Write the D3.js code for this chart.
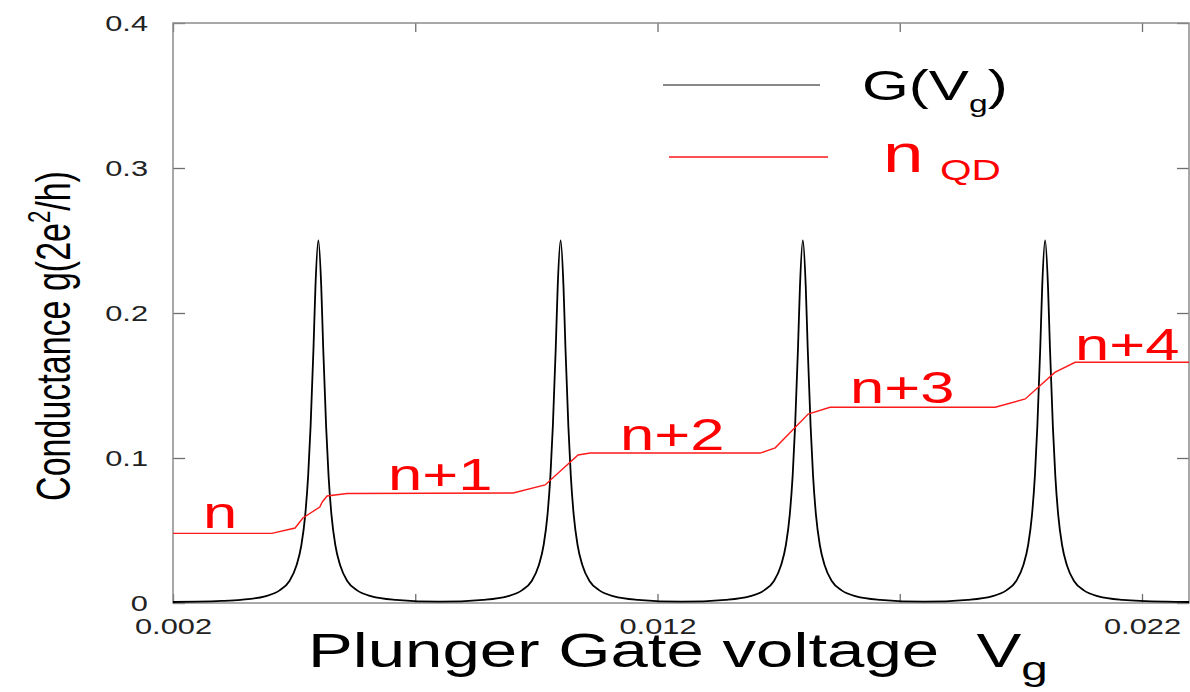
<!DOCTYPE html>
<html>
<head>
<meta charset="utf-8">
<script src="https://cdn.jsdelivr.net/npm/d3@7"></script>
<style>
  html, body { margin: 0; padding: 0; background: #fff; }
  svg { display: block; }
  text { font-family: "Liberation Sans", Arial, sans-serif; }
</style>
</head>
<body>
<div id="chart"></div>
<script>
// ---------------- DATA ----------------
// Conductance G(Vg): plunger gate voltage (V) and conductance (2e^2/h)
const gVoltage = [
  0.0020, 0.0025, 0.0030, 0.0034, 0.0039, 0.0042, 0.0044, 0.00455, 0.00465, 0.00473, 0.00479, 0.00484, 0.0049, 0.00494, 0.0050, 0.00506, 0.0051, 0.00516, 0.00521, 0.00527, 0.00535, 0.00545, 0.0056, 0.0058, 0.0061, 0.0066,
  0.0075,
  0.0084, 0.0089, 0.0092, 0.0094, 0.00955, 0.00965, 0.00973, 0.00979, 0.00984, 0.0099, 0.00994, 0.0100, 0.01006, 0.0101, 0.01016, 0.01021, 0.01027, 0.01035, 0.01045, 0.0106, 0.0108, 0.0111, 0.0116,
  0.0125,
  0.0134, 0.0139, 0.0142, 0.0144, 0.01455, 0.01465, 0.01473, 0.01479, 0.01484, 0.0149, 0.01494, 0.0150, 0.01506, 0.0151, 0.01516, 0.01521, 0.01527, 0.01535, 0.01545, 0.0156, 0.0158, 0.0161, 0.0166,
  0.0175,
  0.0184, 0.0189, 0.0192, 0.0194, 0.01955, 0.01965, 0.01973, 0.01979, 0.01984, 0.0199, 0.01994, 0.0200, 0.02006, 0.0201, 0.02016, 0.02021, 0.02027, 0.02035, 0.02045, 0.0206, 0.0208, 0.0211, 0.0216, 0.0225, 0.02297
];
const gValue = [
  0.0007, 0.0009, 0.0014, 0.0022, 0.0046, 0.0087, 0.015, 0.026, 0.040, 0.061, 0.088, 0.122, 0.176, 0.218, 0.250, 0.218, 0.176, 0.122, 0.088, 0.061, 0.040, 0.026, 0.015, 0.0087, 0.0046, 0.0022,
  0.0009,
  0.0022, 0.0046, 0.0087, 0.015, 0.026, 0.040, 0.061, 0.088, 0.122, 0.176, 0.218, 0.250, 0.218, 0.176, 0.122, 0.088, 0.061, 0.040, 0.026, 0.015, 0.0087, 0.0046, 0.0022,
  0.0009,
  0.0022, 0.0046, 0.0087, 0.015, 0.026, 0.040, 0.061, 0.088, 0.122, 0.176, 0.218, 0.250, 0.218, 0.176, 0.122, 0.088, 0.061, 0.040, 0.026, 0.015, 0.0087, 0.0046, 0.0022,
  0.0009,
  0.0022, 0.0046, 0.0087, 0.015, 0.026, 0.040, 0.061, 0.088, 0.122, 0.176, 0.218, 0.250, 0.218, 0.176, 0.122, 0.088, 0.061, 0.040, 0.026, 0.015, 0.0087, 0.0046, 0.0022, 0.0009, 0.0007
];

// Dot occupation n_QD (scaled onto the conductance axis)
const nVoltage = [0.0020, 0.00404, 0.00452, 0.00468, 0.00503, 0.00508, 0.00518, 0.00559, 0.00902, 0.00968, 0.01036, 0.01061, 0.01412, 0.01443, 0.01511, 0.01556, 0.01897, 0.01959, 0.01990, 0.02020, 0.02062, 0.02297];
const nValue   = [0.048,  0.048,   0.0517,  0.0586,  0.0662,  0.0697,  0.0738,  0.0755,  0.0759,  0.0814,  0.1021,  0.1034,  0.1034,  0.107,   0.1303,  0.135,   0.135,   0.1407,  0.150,   0.159,   0.166,   0.166];

// Step labels and their anchor points (data units)
const stepLabels  = ["n", "n+1", "n+2", "n+3", "n+4"];
const stepLabelV  = [0.00262, 0.006438, 0.011226, 0.015973, 0.020617];
const stepLabelG  = [0.0517, 0.0779, 0.1055, 0.1379, 0.1676];

// Axis ticks
const xTicks = [0.002, 0.007, 0.012, 0.017, 0.022];
const xTickLabels = ["0.002", "", "0.012", "", "0.022"];
const yTicks = [0, 0.1, 0.2, 0.3, 0.4];
const yTickLabels = ["0", "0.1", "0.2", "0.3", "0.4"];

// ---------------- LAYOUT ----------------
const W = 1190, H = 692;
const L = 173, R = 1189, T = 23, B = 603;
const SX = 1.4; // horizontal stretch of all lettering

const svg = d3.select("#chart").append("svg").attr("width", W).attr("height", H);

const x = d3.scaleLinear().domain([0.002, 0.02297]).range([L, R]);
const y = d3.scaleLinear().domain([0, 0.4]).range([B, T]);

const frameColor = "#8c8c8c";
const tickColor = "#6e6e6e";

const yFmt = d => yTickLabels[yTicks.indexOf(d)];
const xFmt = d => xTickLabels[xTicks.indexOf(d)];

const gl = svg.append("g").attr("transform", `translate(${L},0)`)
  .call(d3.axisLeft(y).tickValues(yTicks).tickSize(-12).tickFormat(yFmt));
const gr = svg.append("g").attr("transform", `translate(${R},0)`)
  .call(d3.axisRight(y).tickValues(yTicks).tickSize(-12).tickFormat(""));
const gb = svg.append("g").attr("transform", `translate(0,${B})`)
  .call(d3.axisBottom(x).tickValues(xTicks).tickSize(-9).tickFormat(xFmt));
const gt = svg.append("g").attr("transform", `translate(0,${T})`)
  .call(d3.axisTop(x).tickValues(xTicks).tickSize(-9).tickFormat(""));

[gl, gr, gb, gt].forEach(g => {
  g.select(".domain").remove();
  g.selectAll(".tick line").attr("stroke", tickColor).attr("stroke-width", 1.3);
});

gl.selectAll(".tick text")
  .attr("x", 0).attr("dy", "0.34em")
  .attr("text-anchor", "end")
  .attr("transform", `translate(-25,0) scale(${SX},1)`)
  .attr("font-size", 22).attr("fill", "#222")
  .style("font-family", '"Liberation Sans", Arial, sans-serif');

gb.selectAll(".tick text")
  .attr("y", 0).attr("dy", null)
  .attr("text-anchor", "middle")
  .attr("transform", `translate(0,31) scale(${SX},1)`)
  .attr("font-size", 22).attr("fill", "#222")
  .style("font-family", '"Liberation Sans", Arial, sans-serif');

// Frame
svg.append("rect")
  .attr("x", L).attr("y", T).attr("width", R - L).attr("height", B - T)
  .attr("fill", "none").attr("stroke", frameColor).attr("stroke-width", 1.5);

// Conductance curve
const gPts = gVoltage.map((v, i) => [v, gValue[i]]);
svg.append("path")
  .datum(gPts)
  .attr("fill", "none")
  .attr("stroke", "#000")
  .attr("stroke-width", 1.8)
  .attr("stroke-linejoin", "round")
  .attr("d", d3.line().x(d => x(d[0])).y(d => y(d[1])).curve(d3.curveMonotoneX));

// n_QD curve
const nPts = nVoltage.map((v, i) => [v, nValue[i]]);
svg.append("path")
  .datum(nPts)
  .attr("fill", "none")
  .attr("stroke", "#ff1a1a")
  .attr("stroke-width", 1.4)
  .attr("d", d3.line().x(d => x(d[0])).y(d => y(d[1])));

// Step labels
svg.append("g").selectAll("text")
  .data(stepLabels)
  .join("text")
  .attr("transform", (d, i) => `translate(${x(stepLabelV[i])},${y(stepLabelG[i])}) scale(${SX},1)`)
  .attr("font-size", 44)
  .attr("fill", "#ff0000")
  .text(d => d);

// Legend
svg.append("line").attr("x1", 663).attr("x2", 820).attr("y1", 85).attr("y2", 85)
  .attr("stroke", "#888").attr("stroke-width", 2.2);
const lg = svg.append("text")
  .attr("transform", `translate(862,100) scale(${SX},1)`)
  .attr("font-size", 43).attr("fill", "#000");
lg.append("tspan").text("G(V");
lg.append("tspan").attr("font-size", 24).attr("dy", 12).text("g");
lg.append("tspan").attr("dy", -12).text(")");

svg.append("line").attr("x1", 669).attr("x2", 828).attr("y1", 157).attr("y2", 157)
  .attr("stroke", "#ff1a1a").attr("stroke-width", 1.6);
svg.append("text")
  .attr("transform", `translate(883,172) scale(${SX},1)`)
  .attr("font-size", 52).attr("fill", "#ff0000").text("n");
svg.append("text")
  .attr("transform", `translate(940,180) scale(${SX},1)`)
  .attr("font-size", 29).attr("fill", "#ff0000").text("QD");

// Axis titles
const xt = svg.append("text")
  .attr("transform", `translate(308,667) scale(${SX},1)`)
  .attr("font-size", 48).attr("fill", "#000");
xt.append("tspan").text("Plunger Gate voltage\u00A0\u00A0V");
xt.append("tspan").attr("font-size", 34).attr("dy", 13).text("g");

const yt = svg.append("text")
  .attr("transform", `translate(70,336) scale(${SX},1) rotate(-90)`)
  .attr("text-anchor", "middle")
  .attr("font-size", 34).attr("fill", "#000");
yt.append("tspan").text("Conductance g(2e");
yt.append("tspan").attr("font-size", 22).attr("dy", -14).text("2");
yt.append("tspan").attr("dy", 14).text("/h)");
</script>
</body>
</html>
